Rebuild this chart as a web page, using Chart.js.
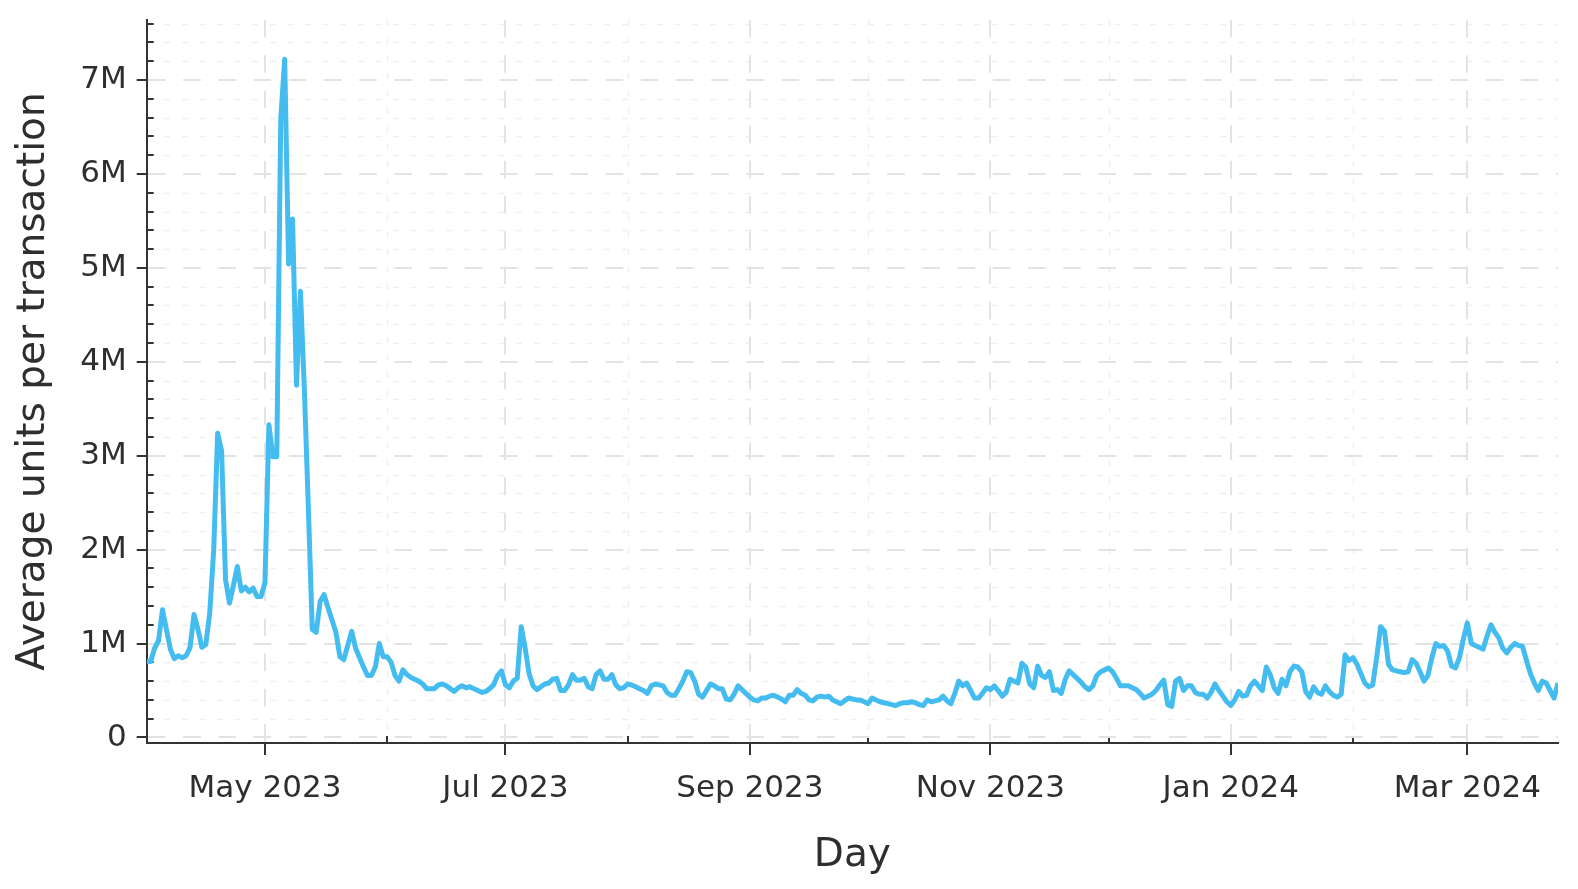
<!DOCTYPE html>
<html lang="en">
<head>
<meta charset="UTF-8">
<title>Average units per transaction</title>
<style>
  body { margin: 0; background: #fff; }
  #wrap { width: 1578px; height: 889px; }
</style>
<script src="https://cdn.jsdelivr.net/npm/chart.js"></script>
</head>
<body>
<div id="wrap"><canvas id="chart" width="1578" height="889"></canvas></div>
<script>
// one value per day, starting 2023-04-01 (millions of units)
const firstDay = [2023, 3, 1];
const avgUnitsM = [
  0.81, 0.81, 0.95, 1.03, 1.36, 1.15, 0.94, 0.84, 0.87, 0.85,
  0.87, 0.96, 1.31, 1.15, 0.96, 0.99, 1.33, 2.00, 3.24, 3.05,
  1.68, 1.43, 1.62, 1.82, 1.56, 1.60, 1.55, 1.59, 1.50, 1.50,
  1.65, 3.33, 2.99, 2.99, 6.58, 7.22, 5.04, 5.52, 3.75, 4.75,
  3.70, 2.45, 1.15, 1.12, 1.45, 1.52, 1.38, 1.25, 1.12, 0.86,
  0.83, 0.98, 1.13, 0.95, 0.85, 0.75, 0.66, 0.66, 0.75, 1.00,
  0.86, 0.86, 0.80, 0.66, 0.60, 0.72, 0.67, 0.64, 0.62, 0.60,
  0.57, 0.52, 0.52, 0.52, 0.56, 0.57, 0.55, 0.52, 0.49, 0.53,
  0.55, 0.53, 0.54, 0.52, 0.50, 0.48, 0.49, 0.52, 0.56, 0.66,
  0.71, 0.56, 0.53, 0.60, 0.63, 1.18, 0.95, 0.68, 0.55, 0.51,
  0.54, 0.57, 0.58, 0.62, 0.63, 0.50, 0.50, 0.56, 0.67, 0.61,
  0.61, 0.63, 0.54, 0.52, 0.67, 0.71, 0.62, 0.62, 0.67, 0.56,
  0.52, 0.53, 0.57, 0.56, 0.54, 0.52, 0.50, 0.47, 0.55, 0.57,
  0.56, 0.55, 0.48, 0.45, 0.45, 0.52, 0.60, 0.70, 0.69, 0.60,
  0.46, 0.43, 0.50, 0.57, 0.55, 0.52, 0.52, 0.41, 0.40, 0.46,
  0.55, 0.51, 0.47, 0.43, 0.40, 0.39, 0.42, 0.42, 0.44, 0.45,
  0.43, 0.41, 0.38, 0.45, 0.45, 0.51, 0.47, 0.45, 0.40, 0.39,
  0.43, 0.44, 0.43, 0.44, 0.40, 0.38, 0.36, 0.39, 0.42, 0.41,
  0.40, 0.40, 0.38, 0.36, 0.42, 0.40, 0.38, 0.37, 0.36, 0.35,
  0.34, 0.36, 0.37, 0.37, 0.38, 0.37, 0.35, 0.34, 0.40, 0.38,
  0.39, 0.40, 0.44, 0.39, 0.36, 0.47, 0.60, 0.55, 0.58, 0.50,
  0.42, 0.42, 0.47, 0.53, 0.51, 0.55, 0.50, 0.44, 0.48, 0.62,
  0.60, 0.58, 0.79, 0.75, 0.57, 0.53, 0.76, 0.66, 0.64, 0.70,
  0.50, 0.51, 0.47, 0.62, 0.71, 0.67, 0.63, 0.59, 0.54, 0.51,
  0.55, 0.66, 0.70, 0.72, 0.74, 0.70, 0.63, 0.55, 0.55, 0.55,
  0.53, 0.51, 0.47, 0.42, 0.44, 0.46, 0.50, 0.56, 0.61, 0.35,
  0.33, 0.60, 0.63, 0.50, 0.55, 0.55, 0.48, 0.46, 0.46, 0.42,
  0.48, 0.57, 0.50, 0.44, 0.38, 0.34, 0.40, 0.49, 0.44, 0.45,
  0.55, 0.60, 0.55, 0.50, 0.75, 0.67, 0.53, 0.47, 0.62, 0.55,
  0.70, 0.76, 0.75, 0.70, 0.49, 0.43, 0.54, 0.48, 0.46, 0.55,
  0.49, 0.45, 0.43, 0.46, 0.88, 0.82, 0.85, 0.78, 0.68, 0.58,
  0.54, 0.56, 0.85, 1.18, 1.13, 0.78, 0.72, 0.71, 0.70, 0.69,
  0.70, 0.83, 0.79, 0.70, 0.60, 0.66, 0.85, 1.00, 0.97, 0.98,
  0.92, 0.76, 0.74, 0.85, 1.05, 1.22, 1.00, 0.98, 0.96, 0.94,
  1.08, 1.20, 1.12, 1.06, 0.95, 0.90, 0.96, 1.00, 0.98, 0.97,
  0.82, 0.68, 0.58, 0.50, 0.60, 0.58, 0.50, 0.42, 0.58
];

// x axis: labelled months and unlabelled (minor) months, [year, monthIndex]
const majorMonths = [[2023, 4], [2023, 6], [2023, 8], [2023, 10], [2024, 0], [2024, 2]];
const majorLabels = ['May 2023', 'Jul 2023', 'Sep 2023', 'Nov 2023', 'Jan 2024', 'Mar 2024'];
const minorMonths = [[2023, 5], [2023, 7], [2023, 9], [2023, 11], [2024, 1]];

// y axis, in millions
const yMajor = [0, 1, 2, 3, 4, 5, 6, 7];
const yLabels = ['0', '1M', '2M', '3M', '4M', '5M', '6M', '7M'];
const yMinor = [0.2, 0.4, 0.6, 0.8, 1.2, 1.4, 1.6, 1.8, 2.2, 2.4, 2.6, 2.8, 3.2, 3.4, 3.6, 3.8,
  4.2, 4.4, 4.6, 4.8, 5.2, 5.4, 5.6, 5.8, 6.2, 6.4, 6.6, 6.8, 7.2, 7.4, 7.6];

const DAY_MS = 86400000;
const t0 = Date.UTC(firstDay[0], firstDay[1], firstDay[2]);
function dayOf(y, m) {
  return (Date.UTC(y, m, 1) - t0) / DAY_MS;
}
const majorDays = majorMonths.map(d => dayOf(d[0], d[1]));
const minorDays = minorMonths.map(d => dayOf(d[0], d[1]));

const points = avgUnitsM.map((v, i) => ({ x: i, y: v * 1e6 }));

const textColor = '#2e2e2e';
const axisColor = '#333333';

// minor gridlines + small inward ticks, drawn under everything else
const minorGrid = {
  id: 'minorGrid',
  beforeDraw(chart) {
    const { ctx, chartArea: a, scales: { x, y } } = chart;
    ctx.save();
    ctx.lineWidth = 1.5;
    ctx.strokeStyle = '#efefef';
    ctx.setLineDash([6, 11.6]);
    yMinor.forEach(v => {
      const py = Math.round(y.getPixelForValue(v * 1e6)) + 0.5;
      ctx.beginPath();
      ctx.moveTo(a.left, py);
      ctx.lineTo(a.right, py);
      ctx.stroke();
    });
    minorDays.forEach(d => {
      const px = Math.round(x.getPixelForValue(d)) + 0.5;
      ctx.beginPath();
      ctx.moveTo(px, a.top);
      ctx.lineTo(px, a.bottom);
      ctx.stroke();
    });
    ctx.setLineDash([]);
    ctx.lineWidth = 2;
    ctx.strokeStyle = axisColor;
    yMinor.forEach(v => {
      const py = Math.round(y.getPixelForValue(v * 1e6));
      ctx.beginPath();
      ctx.moveTo(a.left, py);
      ctx.lineTo(a.left + 7, py);
      ctx.stroke();
    });
    minorDays.forEach(d => {
      const px = Math.round(x.getPixelForValue(d));
      ctx.beginPath();
      ctx.moveTo(px, a.bottom);
      ctx.lineTo(px, a.bottom - 7);
      ctx.stroke();
    });
    ctx.restore();
  }
};

new Chart(document.getElementById('chart'), {
  type: 'line',
  data: {
    datasets: [{
      data: points,
      borderColor: '#44bcf0',
      borderWidth: 5,
      pointRadius: 0,
      tension: 0,
      borderJoinStyle: 'round',
      fill: false
    }]
  },
  options: {
    responsive: false,
    animation: false,
    devicePixelRatio: 1,
    layout: { padding: { top: 20, right: 20, left: 0, bottom: 0 } },
    plugins: { legend: { display: false }, tooltip: { enabled: false } },
    scales: {
      x: {
        type: 'linear',
        min: 0,
        max: avgUnitsM.length - 1,
        afterFit: s => { s.height = 146; s.paddingLeft = 0; s.paddingRight = 0; },
        afterBuildTicks: s => { s.ticks = majorDays.map(v => ({ value: v })); },
        ticks: {
          autoSkip: false,
          maxRotation: 0,
          padding: 15,
          color: textColor,
          font: { family: 'DejaVu Sans', size: 31 },
          callback: v => majorLabels[majorDays.indexOf(v)]
        },
        grid: {
          color: '#e3e3e3',
          lineWidth: 2,
          tickColor: axisColor,
          tickWidth: 2,
          tickLength: 12
        },
        border: { display: true, color: axisColor, width: 2, dash: [17.6, 17.6] },
        title: {
          display: true,
          text: 'Day',
          color: textColor,
          font: { family: 'DejaVu Sans', size: 39 },
          padding: { top: 0, bottom: 10 }
        }
      },
      y: {
        min: -58600,
        max: 7639000,
        afterFit: s => { s.width = 146.7; s.paddingTop = 0; s.paddingBottom = 0; },
        afterBuildTicks: s => { s.ticks = yMajor.map(v => ({ value: v * 1e6 })); },
        ticks: {
          padding: 10,
          color: textColor,
          font: { family: 'DejaVu Sans', size: 31 },
          callback: v => yLabels[yMajor.indexOf(Math.round(v / 1e6))]
        },
        grid: {
          color: '#e3e3e3',
          lineWidth: 2,
          tickColor: axisColor,
          tickWidth: 2,
          tickLength: 10
        },
        border: { display: true, color: axisColor, width: 2, dash: [17.6, 17.6] },
        title: {
          display: true,
          text: 'Average units per transaction',
          color: textColor,
          font: { family: 'DejaVu Sans', size: 39 },
          padding: { top: 10, bottom: 0 }
        }
      }
    }
  },
  plugins: [minorGrid]
});
</script>
</body>
</html>
